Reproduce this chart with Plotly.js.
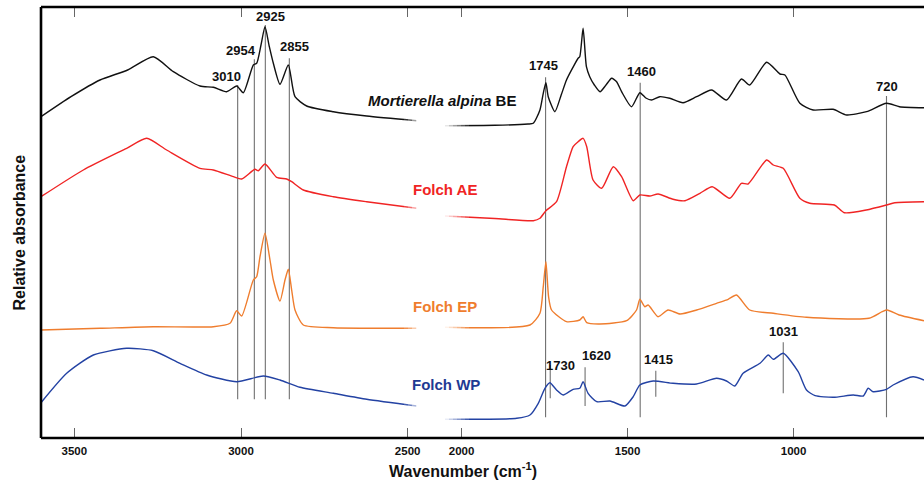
<!DOCTYPE html>
<html>
<head>
<meta charset="utf-8">
<script src="https://cdn.plot.ly/plotly-3.0.1.min.js"></script>
<style>html,body{margin:0;padding:0;background:#fff;}#chart{width:924px;height:480px;}</style>
</head>
<body>
<div id="chart"></div>
<script>
// ---- tick values ----
const ticksLeft = [3500, 3000, 2500];
const ticksRight = [2000, 1500, 1000];

// ---- Mortierella alpina BE (relative absorbance, arbitrary offset units) ----
const mortWnL = [3600,3510,3423,3340,3263,3203,3123,3083,3043,3013,2993,2963,2953,2940,2928,2915,2903,2883,2858,2838,2803,2723,2623,2473];
const mortAbsL = [321.3,341.3,358,368,381.3,366.3,352,350.7,346.3,352,345.3,373,374.7,393,411.3,391.3,374.7,353.7,373,341.3,332,326.3,322,317.3];
const mortWnR = [2050,1900,1800,1784,1764,1754,1746,1739,1719,1700,1684,1665,1649,1644,1634,1624,1614,1600,1583,1565,1548,1533,1518,1488,1463,1445,1428,1403,1373,1333,1292,1247,1202,1157,1132,1081,1041,1026,981,941,881,840,780,720,681,607];
const mortAbsR = [312.3,312.7,314,314.7,328,344.7,355.3,341.3,326.3,343,358,370.3,379.7,381.3,409.7,371.3,361.3,353,346.3,353,359.7,356.3,346.3,331.3,345.3,340,338,341.3,339.7,335.3,341.3,348,338,359,353,375.7,364,363,334.7,328,328.7,323,326.3,334.7,331.3,330.3];

// ---- Folch AE ----
const aeWnL = [3600,3473,3343,3283,3223,3123,3083,3023,2998,2958,2948,2928,2893,2863,2848,2813,2723,2623,2473];
const aeAbsL = [241.3,268,289.7,299.7,288,269.7,268,261.3,259,268.7,267.3,274,260.7,259,256.3,248,241.3,236.3,229.7];
const aeWnR = [2050,1900,1784,1764,1746,1714,1684,1664,1649,1634,1623,1604,1578,1543,1518,1483,1463,1433,1408,1363,1327,1282,1245,1192,1157,1137,1081,1061,1031,981,951,877,847,781,720,695,607];
const aeAbsR = [222,219.5,217.3,219.7,227.3,236.3,271.3,291.3,296.3,299.7,291.3,258,249.7,271.3,261.3,237.3,243,242,244,238.7,237.3,244.7,251.3,239.7,254.7,254,278,273,269.7,239.7,234.7,233,225.3,228,233,235.3,236.3];

// ---- Folch EP ----
const epWnL = [3600,3423,3263,3083,3033,3013,2998,2963,2953,2943,2928,2913,2903,2883,2868,2858,2848,2838,2813,2723,2473];
const epAbsL = [108,109.7,111.3,111.3,114.7,127.3,122,158,161.3,181.3,204.7,178,158,137,158,168.7,148,128,113,110.3,109.7];
const epWnR = [2050,1794,1764,1754,1746,1738,1729,1684,1644,1634,1623,1583,1503,1473,1463,1448,1438,1408,1378,1342,1292,1232,1197,1172,1132,1061,961,773,733,718,682,607];
const epAbsR = [110.7,113,124.7,151.3,176.3,141.3,128,116.3,118,121.3,115.3,114,117.3,128,138.7,131.3,133,121.3,128,124,128,134.7,138.7,143,128,124.7,120.7,119.7,126.3,128,123,117.3];

// ---- Folch WP ----
const wpWnL = [3600,3523,3443,3343,3263,3183,3103,3013,2933,2883,2823,2723,2623,2473];
const wpAbsL = [35.3,64.7,83,89.7,87.3,74.7,63,56.3,62,58,50.7,44.7,38.7,32];
const wpWnR = [2050,1834,1794,1769,1749,1734,1714,1694,1664,1644,1634,1619,1593,1553,1508,1483,1463,1423,1363,1292,1232,1202,1177,1152,1101,1076,1061,1031,986,961,935,880,820,790,775,760,720,700,640,607];
const wpAbsR = [18.7,19.7,23,34.7,49.7,55.3,48,43,48.7,49.7,56.3,44.7,36.3,37,32,41.3,53,57,54.7,54,59.7,57,52,64.7,74.7,83,78.7,84.7,66.3,48,42.3,40.7,43,42,49.7,46.3,48.7,53,61.3,58];

// ---- series names / colours ----
const seriesNames = ['<i>Mortierella alpina</i> BE', 'Folch AE', 'Folch EP', 'Folch WP'];
const seriesColors = ['#111111', '#f02424', '#ef7d2e', '#2342a3'];
const labelColors = ['#111111', '#f02424', '#ef7d2e', '#1f3a93'];

// ---- peak marker lines ----
const longWnL = [3010, 2960, 2927, 2855];
const longTopL = [353, 378.7, 413, 379.7];
const longBottomL = 38.7;
const longWnR = [1747, 1462, 720];
const longTopR = [360.7, 355.3, 342];
const longBottomR = 20.7;
const shortWn = [1733, 1628, 1415, 1031];
const shortTop = [73, 70.7, 67.3, 95.7];
const shortBottom = [39.7, 32, 41.3, 44.7];

// ---- peak labels ----
const peakText = ['3010','2954','2925','2855','1745','1460','720','1730','1620','1415','1031'];
const peakLabelWn = [3045, 3001, 2913, 2840, 1754, 1458, 718, 1702, 1593, 1408, 1031];
const peakLabelAbs = [362, 387.3, 421.3, 391.3, 373, 367, 352, 73, 83, 78.7, 106.3];
const peakLabelAxis = ['x','x','x','x','x2','x2','x2','x2','x2','x2','x2'];

const leftSets = [[mortWnL, mortAbsL],[aeWnL, aeAbsL],[epWnL, epAbsL],[wpWnL, wpAbsL]];
const rightSets = [[mortWnR, mortAbsR],[aeWnR, aeAbsR],[epWnR, epAbsR],[wpWnR, wpAbsR]];

const traces = [];
leftSets.forEach((s, i) => traces.push({x: s[0], y: s[1], xaxis: 'x', yaxis: 'y', type: 'scatter', mode: 'lines',
  line: {color: seriesColors[i], width: 1.4, shape: 'spline', smoothing: 0.6}, showlegend: false, hoverinfo: 'skip'}));
rightSets.forEach((s, i) => traces.push({x: s[0], y: s[1], xaxis: 'x2', yaxis: 'y', type: 'scatter', mode: 'lines',
  line: {color: seriesColors[i], width: 1.4, shape: 'spline', smoothing: 0.6}, showlegend: false, hoverinfo: 'skip'}));

const shapes = [];
const grey = {color: '#707070', width: 1.1};
longWnL.forEach((w, i) => shapes.push({type: 'line', xref: 'x', yref: 'y', x0: w, x1: w, y0: longBottomL, y1: longTopL[i], line: grey, layer: 'below'}));
longWnR.forEach((w, i) => shapes.push({type: 'line', xref: 'x2', yref: 'y', x0: w, x1: w, y0: longBottomR, y1: longTopR[i], line: grey, layer: 'below'}));
shortWn.forEach((w, i) => shapes.push({type: 'line', xref: 'x2', yref: 'y', x0: w, x1: w, y0: shortBottom[i], y1: shortTop[i], line: grey, layer: 'below'}));

// white fades at the axis break
const W = 883, H = 431;
const fadeY0 = (438 - 425) / H, fadeY1 = (438 - 100) / H;
const fadeOpL = [0.15, 0.35, 0.6, 0.85];
fadeOpL.forEach((o, i) => shapes.push({type: 'rect', xref: 'paper', yref: 'paper', x0: (404 + i*4 - 41)/W, x1: (408 + i*4 - 41)/W,
  y0: fadeY0, y1: fadeY1, fillcolor: 'rgba(255,255,255,' + o + ')', line: {width: 0}, layer: 'above'}));
const fadeOpR = [0.9, 0.75, 0.6, 0.45, 0.3, 0.15];
fadeOpR.forEach((o, i) => shapes.push({type: 'rect', xref: 'paper', yref: 'paper', x0: (445 + i*4 - 41)/W, x1: (449 + i*4 - 41)/W,
  y0: fadeY0, y1: fadeY1, fillcolor: 'rgba(255,255,255,' + o + ')', line: {width: 0}, layer: 'above'}));

// frame
const frame = {color: '#000', width: 2.6};
shapes.push({type: 'line', xref: 'paper', yref: 'paper', x0: 0, x1: 0, y0: 0, y1: 1, line: frame});
shapes.push({type: 'line', xref: 'paper', yref: 'paper', x0: 0, x1: 1, y0: 0, y1: 0, line: frame});
shapes.push({type: 'line', xref: 'paper', yref: 'paper', x0: 0, x1: 1, y0: 1, y1: 1, line: frame});

const annotations = [];
peakText.forEach((t, i) => annotations.push({text: t, xref: peakLabelAxis[i], yref: 'y', x: peakLabelWn[i], y: peakLabelAbs[i],
  showarrow: false, xanchor: 'center', yanchor: 'middle', font: {family: 'Liberation Sans, Arial, sans-serif', size: 13, color: '#111', weight: 'bold'}}));

const seriesLabelX = [518, 411, 410.5, 410];
const seriesLabelY = [100, 189.3, 306, 384];
const seriesLabelAnchor = ['right', 'left', 'left', 'left'];
seriesNames.forEach((n, i) => annotations.push({text: n, xref: 'paper', yref: 'paper', x: (seriesLabelX[i] - 41)/W, y: (438 - seriesLabelY[i])/H,
  xanchor: seriesLabelAnchor[i], yanchor: 'middle', showarrow: false,
  font: {family: 'Liberation Sans, Arial, sans-serif', size: 15, color: labelColors[i], weight: 'bold'}}));

annotations.push({text: 'Wavenumber (cm<sup>-1</sup>)', xref: 'paper', yref: 'paper', x: (462.5 - 41)/W, y: (438 - 470)/H,
  xanchor: 'center', yanchor: 'middle', showarrow: false, font: {family: 'Liberation Sans, Arial, sans-serif', size: 16, color: '#111', weight: 'bold'}});
annotations.push({text: 'Relative absorbance', xref: 'paper', yref: 'paper', x: (19 - 41)/W, y: (438 - 232.5)/H, textangle: -90,
  xanchor: 'center', yanchor: 'middle', showarrow: false, font: {family: 'Liberation Sans, Arial, sans-serif', size: 16, color: '#111', weight: 'bold'}});

const xCommon = {showgrid: false, zeroline: false, showline: false, ticks: 'inside', ticklen: 10, tickwidth: 1, tickcolor: '#666',
  mirror: 'ticks', anchor: 'y', fixedrange: true, ticklabelstandoff: 4,
  tickfont: {family: 'Liberation Sans, Arial, sans-serif', size: 11.5, color: '#111', weight: 'bold'}};

const layout = {
  width: 924, height: 480,
  margin: {l: 41, r: 0, t: 7, b: 42},
  paper_bgcolor: '#fff', plot_bgcolor: '#fff',
  showlegend: false,
  xaxis: Object.assign({}, xCommon, {domain: [0, (420 - 41)/W], range: [3600, 2463], tickvals: ticksLeft}),
  xaxis2: Object.assign({}, xCommon, {domain: [(445 - 41)/W, 1], range: [2050, 607], tickvals: ticksRight}),
  yaxis: {range: [0, 431], showgrid: false, zeroline: false, showline: false, showticklabels: false, ticks: '', fixedrange: true},
  shapes: shapes,
  annotations: annotations
};

Plotly.newPlot('chart', traces, layout, {displayModeBar: false, staticPlot: true});
</script>
</body>
</html>
